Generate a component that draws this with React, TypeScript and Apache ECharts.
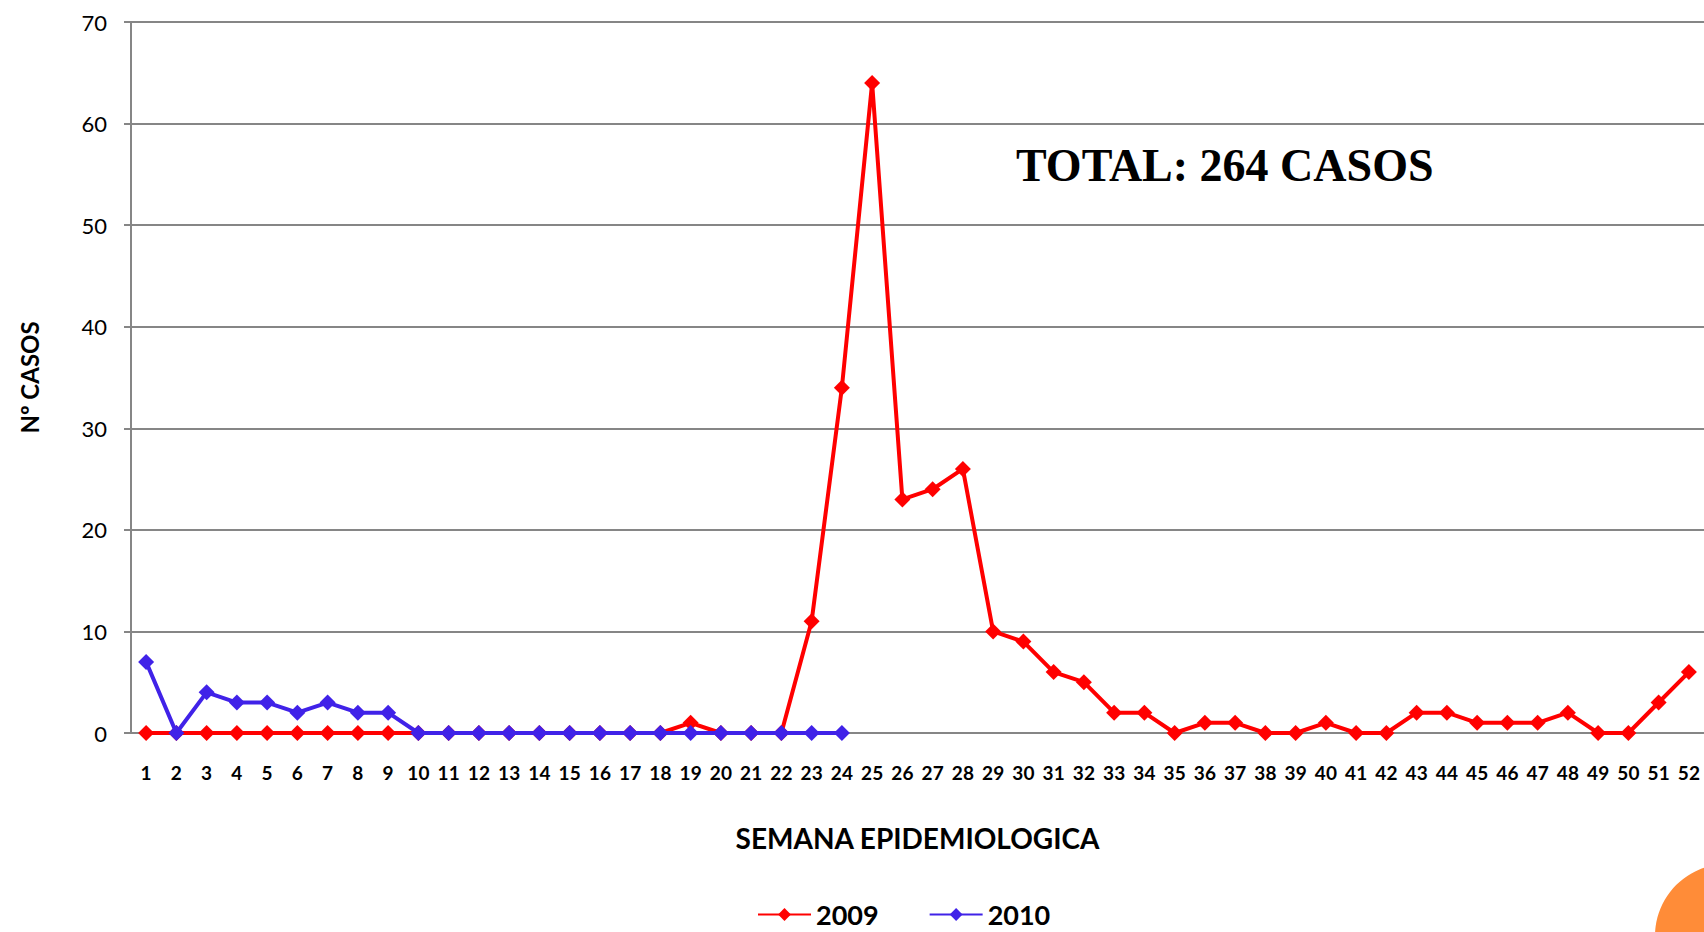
import React, { useEffect, useRef } from "react";
import * as echarts from "echarts";

const weeks: string[] = Array.from({ length: 52 }, (_, i) => String(i + 1));

const cases2009: number[] = [
  0, 0, 0, 0, 0, 0, 0, 0, 0, 0,
  0, 0, 0, 0, 0, 0, 0, 0, 1, 0,
  0, 0, 11, 34, 64, 23, 24, 26, 10, 9,
  6, 5, 2, 2, 0, 1, 1, 0, 0, 1,
  0, 0, 2, 2, 1, 1, 1, 2, 0, 0,
  3, 6,
];

const cases2010: (number | null)[] = [
  7, 0, 4, 3, 3, 2, 3, 2, 2, 0,
  0, 0, 0, 0, 0, 0, 0, 0, 0, 0,
  0, 0, 0, 0,
];

const seriesNames: string[] = ["2009", "2010"];
const titleText = "TOTAL: 264 CASOS";
const xAxisName = "SEMANA EPIDEMIOLOGICA";
const yAxisName = "Nº CASOS";

const RED = "#FF0000";
const BLUE = "#4022E8";
const GRIDC = "#868686";
const FONT = "Lato, 'Open Sans', sans-serif";

export default function App() {
  const ref = useRef<HTMLDivElement>(null);
  useEffect(() => {
    if (!ref.current) return;
    const chart = echarts.init(ref.current, undefined, { renderer: "svg" });
    chart.setOption({
      animation: false,
      backgroundColor: "#ffffff",
      title: {
        text: titleText,
        left: 1011,
        top: 137,
        textStyle: {
          fontFamily: "'Liberation Serif', 'DejaVu Serif', serif",
          fontWeight: "bold",
          fontSize: 46,
          color: "#000",
        },
      },
      legend: {
        data: seriesNames,
        left: 757,
        top: 901,
        padding: 0,
        itemWidth: 53,
        itemHeight: 16,
        itemGap: 50,
        textStyle: {
          fontFamily: FONT,
          fontWeight: "bold",
          fontSize: 27,
          color: "#000",
        },
      },
      grid: {
        left: 131,
        right: 0,
        top: 22,
        bottom: 199,
        containLabel: false,
      },
      xAxis: {
        type: "category",
        data: weeks,
        boundaryGap: true,
        name: xAxisName,
        nameLocation: "middle",
        nameGap: 91,
        nameTextStyle: {
          fontFamily: FONT,
          fontWeight: "bold",
          fontSize: 28,
          color: "#000",
        },
        axisLine: { show: false },
        axisTick: { show: false },
        splitLine: { show: false },
        axisLabel: {
          interval: 0,
          margin: 30,
          fontFamily: FONT,
          fontWeight: "bold",
          fontSize: 19,
          color: "#000",
        },
      },
      yAxis: {
        type: "value",
        min: 0,
        max: 70,
        interval: 10,
        name: yAxisName,
        nameLocation: "middle",
        nameGap: 90,
        nameTextStyle: {
          fontFamily: FONT,
          fontWeight: "bold",
          fontSize: 24,
          color: "#000",
        },
        axisLine: { show: true, lineStyle: { color: GRIDC, width: 2 } },
        axisTick: { show: true, length: 7, lineStyle: { color: GRIDC, width: 2 } },
        splitLine: { show: true, lineStyle: { color: GRIDC, width: 2 } },
        axisLabel: {
          margin: 24,
          fontFamily: FONT,
          fontSize: 22,
          color: "#000",
        },
      },
      series: [
        {
          name: seriesNames[0],
          type: "line",
          data: cases2009,
          symbol: "diamond",
          symbolSize: 16,
          lineStyle: { color: RED, width: 4 },
          itemStyle: { color: RED },
          z: 2,
        },
        {
          name: seriesNames[1],
          type: "line",
          data: cases2010,
          symbol: "diamond",
          symbolSize: 16,
          lineStyle: { color: BLUE, width: 4 },
          itemStyle: { color: BLUE },
          z: 3,
        },
      ],
      graphic: [
        {
          type: "circle",
          shape: { cx: 1727, cy: 936, r: 72 },
          style: { fill: "#FF8C38" },
          z: 10,
        },
      ],
    });
    return () => chart.dispose();
  }, []);
  return (
    <div
      ref={ref}
      style={{ position: "fixed", left: 0, top: 0, width: 1704, height: 932 }}
    />
  );
}
